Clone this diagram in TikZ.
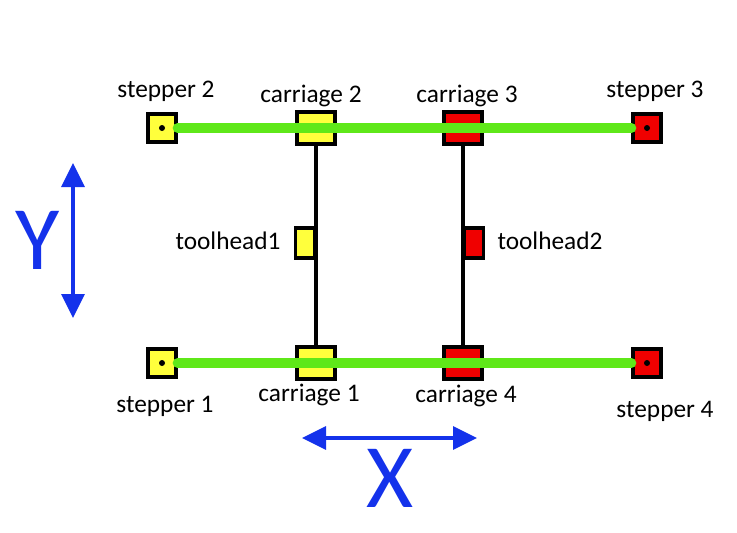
\documentclass[tikz,border=0pt]{standalone}
\usepackage{fontspec}
\setmainfont{Carlito}
\usetikzlibrary{arrows.meta}
\definecolor{railgreen}{RGB}{95,232,25}
\definecolor{partyellow}{RGB}{255,255,60}
\definecolor{partred}{RGB}{240,0,0}
\definecolor{axisblue}{RGB}{20,50,235}
\tikzset{
	motor/.style={draw=black, line width=3pt, minimum width=20.5pt, minimum height=20.5pt, inner sep=0pt},
	carriage/.style={draw=black, line width=3pt, minimum width=29pt, minimum height=24pt, inner sep=0pt},
	tool/.style={draw=black, line width=2.6pt, minimum width=14pt, minimum height=22.5pt, inner sep=0pt},
	rail/.style={railgreen, line width=7.5pt, line cap=round},
	gantry/.style={black, line width=3pt},
	lbl/.style={font=\fontsize{19}{22}\selectfont, inner sep=0pt, anchor=base},
	axis/.style={axisblue, line width=3pt, {Triangle[length=18pt,width=17pt]}-{Triangle[length=18pt,width=17pt]}},
	axislbl/.style={axisblue, font=\fontsize{68}{70}\selectfont, inner sep=0pt}
}
\begin{document}
\begin{tikzpicture}[x=0.75pt,y=-0.75pt]
			\useasboundingbox (0,0) rectangle (737,532);
			% Motores
			\node[motor, fill=partyellow] (s1) at (162,363) {};
			\node[motor, fill=partyellow] (s2) at (162,128) {};
			\node[motor, fill=partred] (s3) at (647,128) {};
			\node[motor, fill=partred] (s4) at (647,363) {};

			% Carros
			\node[carriage, fill=partyellow] (c1) at (316,363) {};
			\node[carriage, fill=partyellow] (c2) at (316,128) {};
			\node[carriage, fill=partred] (c3) at (463,128) {};
			\node[carriage, fill=partred] (c4) at (463,363) {};

			% Ejes Y de los cabezales
			\draw[gantry] (c2) -- (c1);
			\draw[gantry] (c3) -- (c4);

			% Cabezales
			\node[tool, fill=partyellow] (t1) at (305,243) {};
			\node[tool, fill=partred] (t2) at (474,243) {};

			% Correas
			\draw[rail] (s2.east) -- (s3.west);
			\draw[rail] (s1.east) -- (s4.west);

			% Ejes de los motores
			\foreach \s in {s1,s2,s3,s4}
				{
					\fill (\s.center) circle (3);
				}

			% Etiquetas
			\node[lbl] (ls2) at (166,97) {stepper 2};
			\node[lbl] (lc2) at (311,102) {carriage 2};
			\node[lbl] (lc3) at (467,102) {carriage 3};
			\node[lbl] (ls3) at (655,97) {stepper 3};
			\node[lbl] (ls1) at (165,412) {stepper 1};
			\node[lbl] (lc1) at (309,401) {carriage 1};
			\node[lbl] (lc4) at (466,402) {carriage 4};
			\node[lbl] (ls4) at (665,417) {stepper 4};
			\node[lbl] (lt1) at (228,249) {toolhead1};
			\node[lbl] (lt2) at (550,249) {toolhead2};

			% Ejes X e Y
			\coordinate (ytop) at (73,163);
			\coordinate (ybot) at (73,318);
			\coordinate (xleft) at (302,438);
			\coordinate (xright) at (477,438);
			\draw[axis] (ybot) -- (ytop);
			\draw[axis] (xleft) -- (xright);
			\node[axislbl] (ly) at (38,240) {Y};
			\node[axislbl] (lx) at (390,478) {X};
		\end{tikzpicture}
\end{document}
